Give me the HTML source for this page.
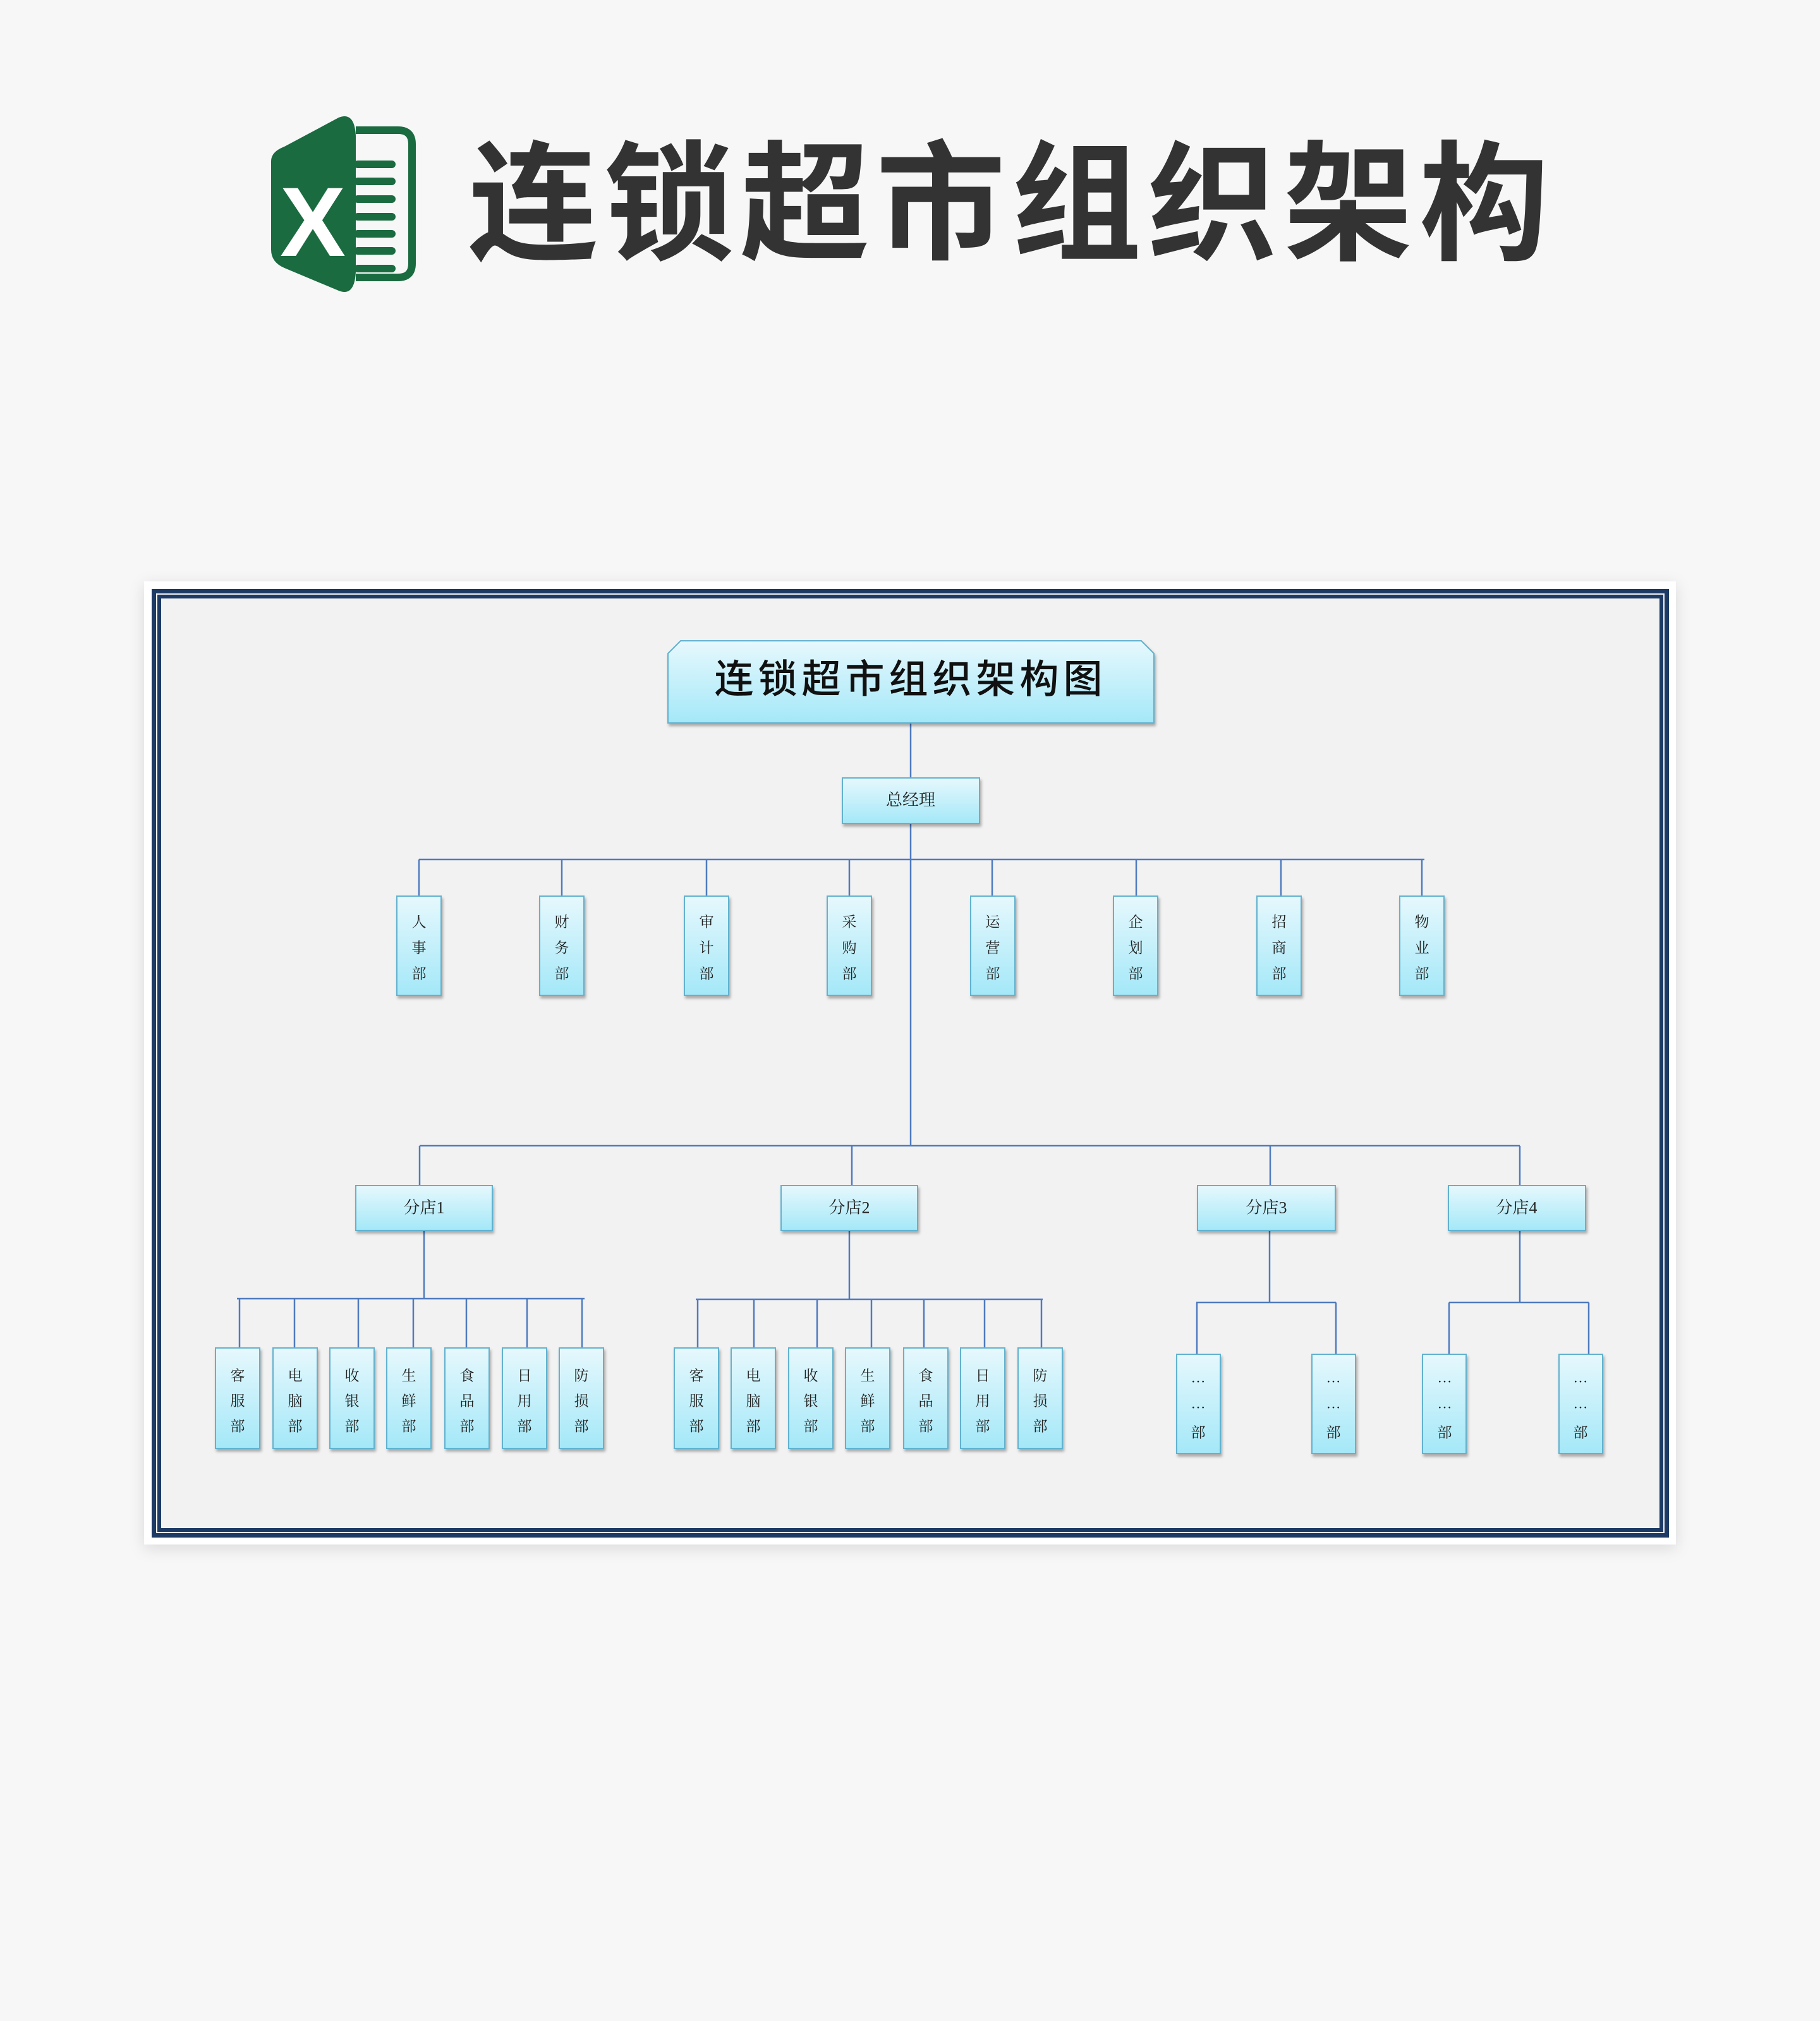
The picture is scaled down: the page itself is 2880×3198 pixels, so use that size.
<!DOCTYPE html>
<html><head><meta charset="utf-8"><style>
html,body{margin:0;padding:0;background:#f7f7f7;}
body{width:2880px;height:3198px;position:relative;overflow:hidden;}
svg{position:absolute;left:0;top:0;}
</style></head><body>
<svg width="2880" height="3198" viewBox="0 0 2880 3198" xmlns="http://www.w3.org/2000/svg">
<defs>
<linearGradient id="g" x1="0" y1="0" x2="0" y2="1">
<stop offset="0" stop-color="#e6f8fd"/><stop offset="1" stop-color="#a4e8f8"/>
</linearGradient>
<filter id="sh" x="-20%" y="-20%" width="140%" height="140%">
<feDropShadow dx="2" dy="4" stdDeviation="2" flood-color="#000" flood-opacity="0.3"/>
</filter>
<filter id="cs" x="-5%" y="-5%" width="110%" height="110%">
<feDropShadow dx="0" dy="6" stdDeviation="12" flood-color="#000" flood-opacity="0.12"/>
</filter>
</defs>

<path d="M563,206 H630 Q652,206 652,228 V417 Q652,439 630,439 H563" fill="none" stroke="#1a6b40" stroke-width="12"/>
<g fill="#1a6b40">
<rect x="560" y="254" width="66" height="12" rx="6"/>
<rect x="560" y="281" width="66" height="12" rx="6"/>
<rect x="560" y="309" width="66" height="12" rx="6"/>
<rect x="560" y="337" width="66" height="12" rx="6"/>
<rect x="560" y="364" width="66" height="12" rx="6"/>
<rect x="560" y="391" width="66" height="12" rx="6"/>
<rect x="560" y="419" width="66" height="12" rx="6"/>
<path d="M450,232 L536,186 Q561,176 563,215 L563,430 Q561,470 536,460 L450,424 Q429,415 429,395 L429,255 Q429,240 450,232 Z"/>
</g>
<text x="495" y="405" font-family="Liberation Sans, sans-serif" font-weight="bold" font-size="156" fill="#fff" text-anchor="middle">X</text>

<text x="1601" y="395" font-family="Liberation Sans, 'Noto Sans CJK SC', sans-serif" font-weight="bold" font-size="205" fill="#333" text-anchor="middle" letter-spacing="10">连锁超市组织架构</text>

<rect x="228" y="920" width="2424" height="1524" fill="#fff" filter="url(#cs)"/>
<rect x="243.5" y="935.5" width="2394" height="1494" fill="#f2f2f2" stroke="#1c3a64" stroke-width="7"/>
<rect x="252" y="944" width="2377" height="1477" fill="none" stroke="#1c3a64" stroke-width="6"/>

<g stroke="#4f7bbf" stroke-width="2.5" fill="none">
<line x1="1441" y1="1144" x2="1441" y2="1231"/>
<line x1="1441" y1="1303" x2="1441" y2="1813"/>
<line x1="663" y1="1360" x2="2254" y2="1360"/>
<line x1="663" y1="1360" x2="663" y2="1418"/>
<line x1="889" y1="1360" x2="889" y2="1418"/>
<line x1="1118" y1="1360" x2="1118" y2="1418"/>
<line x1="1344" y1="1360" x2="1344" y2="1418"/>
<line x1="1570" y1="1360" x2="1570" y2="1418"/>
<line x1="1798" y1="1360" x2="1798" y2="1418"/>
<line x1="2027" y1="1360" x2="2027" y2="1418"/>
<line x1="2250" y1="1360" x2="2250" y2="1418"/>
<line x1="664" y1="1813" x2="2405" y2="1813"/>
<line x1="664" y1="1813" x2="664" y2="1876"/>
<line x1="1348" y1="1813" x2="1348" y2="1876"/>
<line x1="2010" y1="1813" x2="2010" y2="1876"/>
<line x1="2405" y1="1813" x2="2405" y2="1876"/>
<line x1="671" y1="1947" x2="671" y2="2055"/>
<line x1="375" y1="2055" x2="925" y2="2055"/>
<line x1="379" y1="2055" x2="379" y2="2133"/>
<line x1="466" y1="2055" x2="466" y2="2133"/>
<line x1="567" y1="2055" x2="567" y2="2133"/>
<line x1="654" y1="2055" x2="654" y2="2133"/>
<line x1="738" y1="2055" x2="738" y2="2133"/>
<line x1="834" y1="2055" x2="834" y2="2133"/>
<line x1="921" y1="2055" x2="921" y2="2133"/>
<line x1="1344" y1="1947" x2="1344" y2="2056"/>
<line x1="1101" y1="2056" x2="1650" y2="2056"/>
<line x1="1104" y1="2056" x2="1104" y2="2133"/>
<line x1="1193" y1="2056" x2="1193" y2="2133"/>
<line x1="1293" y1="2056" x2="1293" y2="2133"/>
<line x1="1379" y1="2056" x2="1379" y2="2133"/>
<line x1="1462" y1="2056" x2="1462" y2="2133"/>
<line x1="1558" y1="2056" x2="1558" y2="2133"/>
<line x1="1648" y1="2056" x2="1648" y2="2133"/>
<line x1="2009" y1="1947" x2="2009" y2="2061"/>
<line x1="1893" y1="2061" x2="2114" y2="2061"/>
<line x1="1894" y1="2061" x2="1894" y2="2143"/>
<line x1="2114" y1="2061" x2="2114" y2="2143"/>
<line x1="2405" y1="1947" x2="2405" y2="2061"/>
<line x1="2293" y1="2061" x2="2514" y2="2061"/>
<line x1="2293" y1="2061" x2="2293" y2="2143"/>
<line x1="2514" y1="2061" x2="2514" y2="2143"/>
</g>

<g fill="url(#g)" stroke="#62b2cf" stroke-width="2" filter="url(#sh)">
<path d="M1077,1014 H1806 L1826,1034 V1144 H1057 V1034 Z"/>
<rect x="1333" y="1231" width="217" height="72"/>
<rect x="628" y="1418" width="70" height="157"/>
<rect x="854" y="1418" width="70" height="157"/>
<rect x="1083" y="1418" width="70" height="157"/>
<rect x="1309" y="1418" width="70" height="157"/>
<rect x="1536" y="1418" width="70" height="157"/>
<rect x="1762" y="1418" width="70" height="157"/>
<rect x="1989" y="1418" width="70" height="157"/>
<rect x="2215" y="1418" width="70" height="157"/>
<rect x="563" y="1876" width="216" height="71"/>
<rect x="1236" y="1876" width="216" height="71"/>
<rect x="1895" y="1876" width="218" height="71"/>
<rect x="2292" y="1876" width="217" height="71"/>
<rect x="341" y="2133" width="70" height="159"/>
<rect x="432" y="2133" width="70" height="159"/>
<rect x="522" y="2133" width="70" height="159"/>
<rect x="612" y="2133" width="70" height="159"/>
<rect x="704" y="2133" width="70" height="159"/>
<rect x="795" y="2133" width="70" height="159"/>
<rect x="885" y="2133" width="70" height="159"/>
<rect x="1067" y="2133" width="70" height="159"/>
<rect x="1157" y="2133" width="70" height="159"/>
<rect x="1248" y="2133" width="70" height="159"/>
<rect x="1338" y="2133" width="70" height="159"/>
<rect x="1430" y="2133" width="70" height="159"/>
<rect x="1520" y="2133" width="70" height="159"/>
<rect x="1611" y="2133" width="70" height="159"/>
<rect x="1862" y="2143" width="69" height="157"/>
<rect x="2076" y="2143" width="69" height="157"/>
<rect x="2251" y="2143" width="69" height="157"/>
<rect x="2467" y="2143" width="69" height="157"/>
</g>

<text x="1441" y="1096" font-family="'Noto Sans CJK SC', sans-serif" font-weight="500" font-size="62" fill="#111" text-anchor="middle" letter-spacing="7">连锁超市组织架构图</text>

<g font-family="'Liberation Serif', 'Noto Serif CJK SC', serif" font-size="26" fill="#222" text-anchor="middle" dominant-baseline="central">
<text x="1441" y="1266">总经理</text>
<text x="671" y="1911">分店1</text>
<text x="1344" y="1911">分店2</text>
<text x="2004" y="1911">分店3</text>
<text x="2400" y="1911">分店4</text>
</g>

<g font-family="'Liberation Serif', 'Noto Serif CJK SC', serif" font-size="23" fill="#222" text-anchor="middle" dominant-baseline="central">
<text x="663" y="1459">人</text><text x="663" y="1500">事</text><text x="663" y="1541">部</text>
<text x="889" y="1459">财</text><text x="889" y="1500">务</text><text x="889" y="1541">部</text>
<text x="1118" y="1459">审</text><text x="1118" y="1500">计</text><text x="1118" y="1541">部</text>
<text x="1344" y="1459">采</text><text x="1344" y="1500">购</text><text x="1344" y="1541">部</text>
<text x="1571" y="1459">运</text><text x="1571" y="1500">营</text><text x="1571" y="1541">部</text>
<text x="1797" y="1459">企</text><text x="1797" y="1500">划</text><text x="1797" y="1541">部</text>
<text x="2024" y="1459">招</text><text x="2024" y="1500">商</text><text x="2024" y="1541">部</text>
<text x="2250" y="1459">物</text><text x="2250" y="1500">业</text><text x="2250" y="1541">部</text>

<text x="376" y="2177">客</text><text x="376" y="2217">服</text><text x="376" y="2257">部</text>
<text x="467" y="2177">电</text><text x="467" y="2217">脑</text><text x="467" y="2257">部</text>
<text x="557" y="2177">收</text><text x="557" y="2217">银</text><text x="557" y="2257">部</text>
<text x="647" y="2177">生</text><text x="647" y="2217">鲜</text><text x="647" y="2257">部</text>
<text x="739" y="2177">食</text><text x="739" y="2217">品</text><text x="739" y="2257">部</text>
<text x="830" y="2177">日</text><text x="830" y="2217">用</text><text x="830" y="2257">部</text>
<text x="920" y="2177">防</text><text x="920" y="2217">损</text><text x="920" y="2257">部</text>

<text x="1102" y="2177">客</text><text x="1102" y="2217">服</text><text x="1102" y="2257">部</text>
<text x="1192" y="2177">电</text><text x="1192" y="2217">脑</text><text x="1192" y="2257">部</text>
<text x="1283" y="2177">收</text><text x="1283" y="2217">银</text><text x="1283" y="2257">部</text>
<text x="1373" y="2177">生</text><text x="1373" y="2217">鲜</text><text x="1373" y="2257">部</text>
<text x="1465" y="2177">食</text><text x="1465" y="2217">品</text><text x="1465" y="2257">部</text>
<text x="1555" y="2177">日</text><text x="1555" y="2217">用</text><text x="1555" y="2257">部</text>
<text x="1646" y="2177">防</text><text x="1646" y="2217">损</text><text x="1646" y="2257">部</text>

<text x="1896" y="2180">…</text><text x="1896" y="2221">…</text><text x="1896" y="2267">部</text>
<text x="2110" y="2180">…</text><text x="2110" y="2221">…</text><text x="2110" y="2267">部</text>
<text x="2286" y="2180">…</text><text x="2286" y="2221">…</text><text x="2286" y="2267">部</text>
<text x="2501" y="2180">…</text><text x="2501" y="2221">…</text><text x="2501" y="2267">部</text>
</g>
</svg>
</body></html>
